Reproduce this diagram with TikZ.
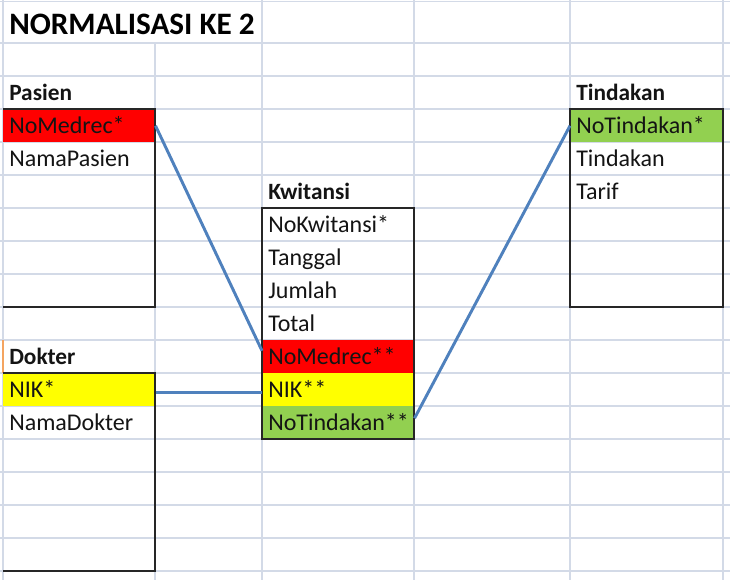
\documentclass[tikz,border=0pt]{standalone}
\usepackage{fontspec}
\setmainfont{Carlito}
\definecolor{gridc}{HTML}{D3DAE7}
\definecolor{conn}{HTML}{4F81BD}
\definecolor{keyred}{HTML}{FF0000}
\definecolor{keyyel}{HTML}{FFFF00}
\definecolor{keygrn}{HTML}{92D050}
\definecolor{txt}{HTML}{141414}
\definecolor{selmark}{HTML}{F4A460}
\begin{document}
\begin{tikzpicture}[x=0.75pt,y=-0.75pt,
  gridline/.style={draw=gridc,line width=1.2pt},
  cell/.style={rectangle,anchor=north west,inner xsep=4.5pt,inner ysep=0pt,
    text width=105pt,align=left,text height=18.35pt,text depth=6.4pt,
    font=\fontsize{18}{21}\selectfont,text=txt},
  header/.style={anchor=base west,inner sep=0pt,font=\bfseries\fontsize{17.5}{21}\selectfont,text=txt},
  boxline/.style={draw=black!85,line width=1.2pt},
  link/.style={draw=conn,line width=2.2pt}]
\useasboundingbox[fill=white] (0,0) rectangle (730,580);
% gridlines
\foreach \y in {43,76,...,571} \draw[gridline] (0,\y) -- (730,\y);
\draw[gridline] (0,1.5) -- (730,1.5);
\foreach \x in {3,262,414,570,723} \draw[gridline] (\x,0) -- (\x,580);
\draw[gridline] (155,43) -- (155,580);
\draw[draw=selmark,line width=1.5pt] (2.5,340) -- (2.5,373);
% title
\node[anchor=base west,inner sep=0pt,font=\bfseries\fontsize{23.4}{28}\selectfont,text=black] (title) at (9,35) {NORMALISASI KE 2};
% Pasien
\node[header] (hPasien) at (9,100.5) {Pasien};
\node[cell,fill=keyred] (pNoMedrec) at (3,109) {NoMedrec*};
\node[cell] (pNama) at (3,142) {NamaPasien};
\draw[boxline] (3,109) -- (155,109) -- (155,307) -- (3,307);
% Dokter
\node[header] (hDokter) at (9,364.5) {Dokter};
\node[cell,fill=keyyel] (dNIK) at (3,373) {NIK*};
\node[cell] (dNama) at (3,406) {NamaDokter};
\draw[boxline] (3,373) -- (155,373) -- (155,571) -- (3,571);
% Kwitansi
\node[header] (hKwitansi) at (268,199.5) {Kwitansi};
\node[cell] (kNoKw) at (262,208) {NoKwitansi*};
\node[cell] (kTgl) at (262,241) {Tanggal};
\node[cell] (kJml) at (262,274) {Jumlah};
\node[cell] (kTot) at (262,307) {Total};
\node[cell,fill=keyred] (kNoMed) at (262,340) {NoMedrec**};
\node[cell,fill=keyyel] (kNIK) at (262,373) {NIK**};
\node[cell,fill=keygrn] (kNoTin) at (262,406) {NoTindakan**};
\draw[boxline] (262,208) rectangle (414,439);
% Tindakan
\node[header] (hTindakan) at (576,100.5) {Tindakan};
\node[cell,fill=keygrn,text width=105.75pt] (tNoTin) at (570,109) {NoTindakan*};
\node[cell] (tTin) at (570,142) {Tindakan};
\node[cell] (tTarif) at (570,175) {Tarif};
\draw[boxline] (570,109) rectangle (723,307);
% connectors
\draw[link] (pNoMedrec.east) -- ([yshift=4.5pt]kNoMed.west);
\draw[link] ([yshift=-1.9pt]dNIK.east) -- ([yshift=-1.9pt]kNIK.west);
\draw[link] ([yshift=3.4pt]kNoTin.east) -- (tNoTin.west);
\end{tikzpicture}
\end{document}
